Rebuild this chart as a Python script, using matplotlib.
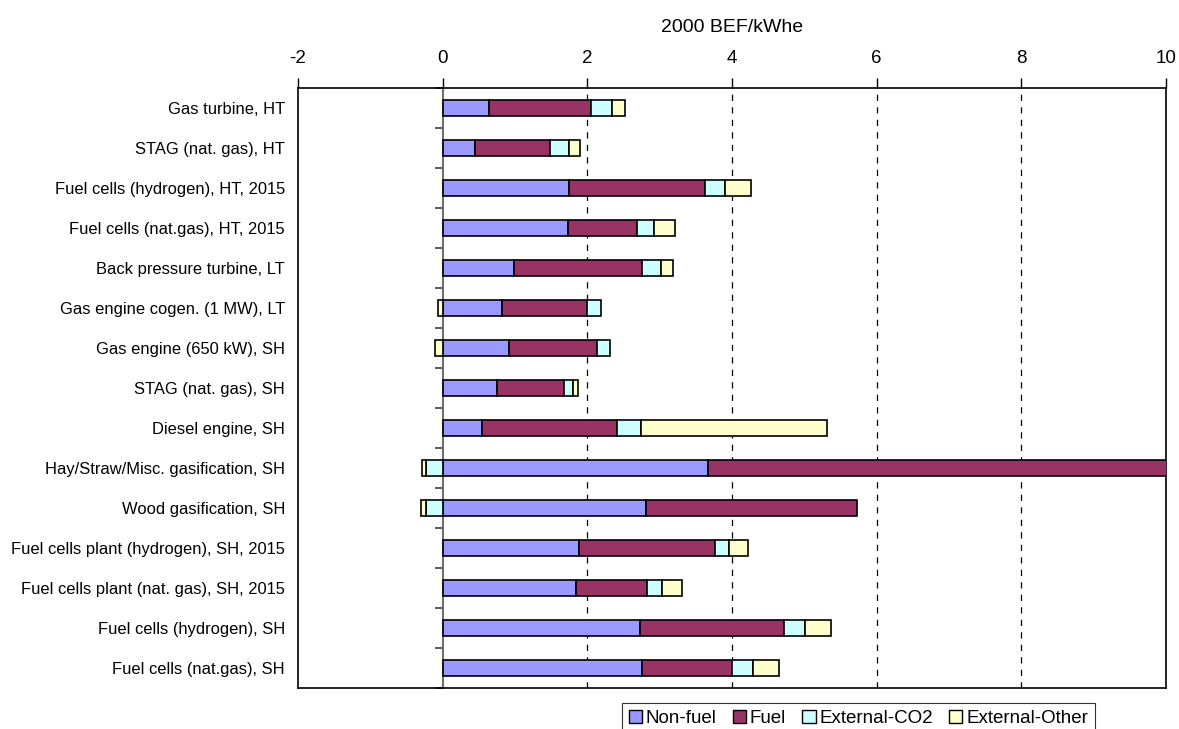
import matplotlib
matplotlib.use("Agg")
import matplotlib.pyplot as plt
import numpy as np
from matplotlib.patches import Patch

plt.rcParams['font.family'] = ['Liberation Sans', 'DejaVu Sans']

categories = [
    "Gas turbine, HT",
    "STAG (nat. gas), HT",
    "Fuel cells (hydrogen), HT, 2015",
    "Fuel cells (nat.gas), HT, 2015",
    "Back pressure turbine, LT",
    "Gas engine cogen. (1 MW), LT",
    "Gas engine (650 kW), SH",
    "STAG (nat. gas), SH",
    "Diesel engine, SH",
    "Hay/Straw/Misc. gasification, SH",
    "Wood gasification, SH",
    "Fuel cells plant (hydrogen), SH, 2015",
    "Fuel cells plant (nat. gas), SH, 2015",
    "Fuel cells (hydrogen), SH",
    "Fuel cells (nat.gas), SH",
]

non_fuel = [0.64, 0.45, 1.745, 1.73, 0.985, 0.815, 0.915, 0.755, 0.55, 3.675, 2.805, 1.89, 1.85, 2.725, 2.75]
fuel = [1.41, 1.035, 1.88, 0.95, 1.775, 1.175, 1.225, 0.925, 1.865, 6.40, 2.93, 1.875, 0.97, 2.0, 1.245]
external_co2 = [0.285, 0.255, 0.285, 0.24, 0.26, 0.20, 0.175, 0.115, 0.325, -0.23, -0.23, 0.19, 0.21, 0.29, 0.29]
external_other = [0.185, 0.16, 0.35, 0.29, 0.17, -0.07, -0.105, 0.07, 2.58, -0.055, -0.075, 0.26, 0.275, 0.36, 0.365]

series = [
    ("Non-fuel", non_fuel, "#9999FF"),
    ("Fuel", fuel, "#993366"),
    ("External-CO2", external_co2, "#CCFFFF"),
    ("External-Other", external_other, "#FFFFCC"),
]

xticks = [-2, 0, 2, 4, 6, 8, 10]

fig = plt.figure(figsize=(11.79, 7.29), dpi=100)
ax = fig.add_axes([298 / 1179, 1 - 688 / 729, (1166 - 298) / 1179, (688 - 88) / 729])

n = len(categories)
y = np.arange(n)
pos_base = np.zeros(n)
neg_base = np.zeros(n)
for name, vals, color in series:
    vals = np.asarray(vals, dtype=float)
    left = np.where(vals >= 0, pos_base, neg_base)
    ax.barh(y, vals, left=left, height=0.4, color=color,
            edgecolor="black", linewidth=1.2, zorder=3, label=name)
    pos_base = pos_base + np.where(vals >= 0, vals, 0)
    neg_base = neg_base + np.where(vals < 0, vals, 0)

ax.set_xlim(-2, 10)
ax.set_ylim(n - 0.5, -0.5)

# value axis on top
ax.xaxis.tick_top()
ax.set_xticks(xticks)
ax.set_xticklabels([str(v) for v in xticks], fontsize=13.5)
ax.tick_params(axis="x", direction="out", length=7, width=1, pad=8)
fig.text((298 + 1166) / 2 / 1179, 1 - 27 / 729, "2000 BEF/kWhe",
         fontsize=14, ha="center", va="center")

# dashed gridlines
for v in xticks[2:-1]:
    ax.axvline(v, color="black", linestyle=(0, (5, 5)), linewidth=0.9, zorder=1)

# category labels
ax.set_yticks(y)
ax.set_yticklabels(categories, fontsize=11.9)
ax.tick_params(axis="y", length=0, pad=9.4)

for sp in ax.spines.values():
    sp.set_color("black")
    sp.set_linewidth(1.2)

# category axis crossing at zero
sec = ax.secondary_yaxis((0 - (-2)) / 12)
sec.spines["left"].set_color("#707070")
sec.spines["left"].set_linewidth(1.5)
sec.set_yticks(np.arange(n + 1) - 0.5)
sec.set_yticklabels([])
sec.tick_params(axis="y", direction="out", length=6, width=1.2, color="#404040")

handles = [Patch(facecolor=c, edgecolor="black", linewidth=1.0, label=nm) for nm, _, c in series]
leg = fig.legend(handles=handles, loc="upper left",
                 bbox_to_anchor=(622 / 1179, 1 - 703 / 729), ncol=4,
                 fontsize=13.5, frameon=True, fancybox=False,
                 handlelength=0.72, handleheight=0.72, handletextpad=0.2,
                 columnspacing=0.85, borderpad=0.35, borderaxespad=0)
leg.get_frame().set_edgecolor("black")
leg.get_frame().set_linewidth(0.8)

fig.savefig("out.png", dpi=100)
